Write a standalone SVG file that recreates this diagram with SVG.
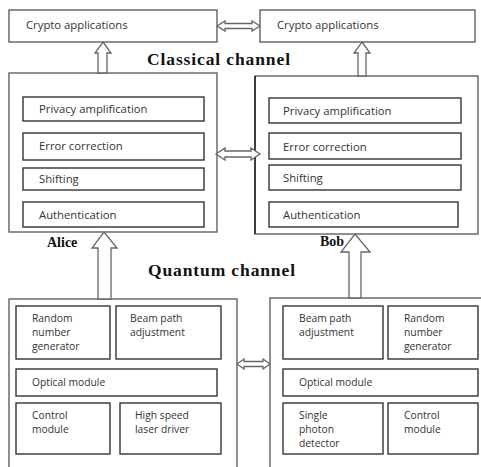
<svg xmlns="http://www.w3.org/2000/svg" width="481" height="467" viewBox="0 0 481 467">
<style>
.outer{fill:#fff;stroke:#555;stroke-width:1.3}
.inner{fill:#fff;stroke:#333;stroke-width:1.4}
.t{font-family:"Open Sans","Liberation Sans",sans-serif;font-size:11.3px;fill:#333}
.s{font-family:"Open Sans","Liberation Sans",sans-serif;font-size:10.3px;fill:#333}
.b{font-family:"Liberation Serif","DejaVu Serif",serif;font-weight:bold;fill:#111}
.arr{fill:#fff;stroke:#666;stroke-width:1.3;stroke-linejoin:miter}
</style>
<rect width="481" height="467" fill="#fff"/>
<g id="crypto-alice"><rect class="outer" x="9" y="10" width="208" height="32"/><text class="t" x="26" y="29">Crypto applications</text></g>
<g id="crypto-bob"><rect class="outer" x="260" y="10" width="215" height="32"/><text class="t" x="277" y="29">Crypto applications</text></g>
<g id="classical-alice">
<rect class="outer" x="9" y="73" width="208" height="159"/>
<g id="alice-privacy"><rect class="inner" x="23" y="97" width="181" height="24"/><text class="t" x="39" y="113">Privacy amplification</text></g>
<g id="alice-error"><rect class="inner" x="23" y="133" width="181" height="27"/><text class="t" x="39" y="150">Error correction</text></g>
<g id="alice-shift"><rect class="inner" x="23" y="168" width="181" height="22"/><text class="t" x="39" y="183">Shifting</text></g>
<g id="alice-auth"><rect class="inner" x="23" y="202" width="181" height="25"/><text class="t" x="39" y="219">Authentication</text></g>
</g>
<g id="classical-bob">
<rect class="outer" x="255" y="76" width="223" height="158"/>
<line x1="255" y1="76" x2="255" y2="234" stroke="#333" stroke-width="1.8"/>
<g id="bob-privacy"><rect class="inner" x="269" y="98" width="192" height="25"/><text class="t" x="283" y="115">Privacy amplification</text></g>
<g id="bob-error"><rect class="inner" x="269" y="133" width="192" height="26"/><text class="t" x="283" y="151">Error correction</text></g>
<g id="bob-shift"><rect class="inner" x="269" y="165" width="192" height="25"/><text class="t" x="283" y="182">Shifting</text></g>
<g id="bob-auth"><rect class="inner" x="269" y="202" width="189" height="25"/><text class="t" x="283" y="219">Authentication</text></g>
</g>
<text class="b" x="147" y="65" font-size="17.5" textLength="143" lengthAdjust="spacing">Classical channel</text>
<text class="b" x="148" y="276" font-size="17.5" textLength="147" lengthAdjust="spacing">Quantum channel</text>
<text class="b" x="47" y="247" font-size="14">Alice</text>
<text class="b" x="320" y="246" font-size="14">Bob</text>
<g id="quantum-alice">
<rect class="outer" x="9" y="299" width="228" height="170"/>
<g id="alice-rng"><rect class="inner" x="16" y="306" width="94" height="53"/><text class="s" x="32" y="322">Random</text><text class="s" x="32" y="336">number</text><text class="s" x="32" y="350">generator</text></g>
<g id="alice-beam"><rect class="inner" x="116" y="306" width="105" height="53"/><text class="s" x="130" y="322">Beam path</text><text class="s" x="130" y="336">adjustment</text></g>
<g id="alice-optical"><rect class="inner" x="16" y="369" width="201" height="27"/><text class="s" x="32" y="386">Optical module</text></g>
<g id="alice-control"><rect class="inner" x="16" y="403" width="94" height="51"/><text class="s" x="32" y="419">Control</text><text class="s" x="32" y="433">module</text></g>
<g id="alice-laser"><rect class="inner" x="120" y="403" width="101" height="51"/><text class="s" x="135" y="419">High speed</text><text class="s" x="135" y="433">laser driver</text></g>
</g>
<g id="quantum-bob">
<rect class="outer" x="270" y="298" width="215" height="175"/>
<g id="bob-beam"><rect class="inner" x="283" y="306" width="100" height="53"/><text class="s" x="299" y="322">Beam path</text><text class="s" x="299" y="336">adjustment</text></g>
<g id="bob-rng"><rect class="inner" x="388" y="306" width="90" height="53"/><text class="s" x="404" y="322">Random</text><text class="s" x="404" y="336">number</text><text class="s" x="404" y="350">generator</text></g>
<g id="bob-optical"><rect class="inner" x="283" y="369" width="195" height="27"/><text class="s" x="299" y="386">Optical module</text></g>
<g id="bob-detector"><rect class="inner" x="283" y="403" width="100" height="51"/><text class="s" x="299" y="419">Single</text><text class="s" x="299" y="433">photon</text><text class="s" x="299" y="447">detector</text></g>
<g id="bob-control"><rect class="inner" x="388" y="403" width="90" height="51"/><text class="s" x="404" y="419">Control</text><text class="s" x="404" y="433">module</text></g>
</g>
<g id="connectors">
<polygon class="arr" points="217,26 225,21 225,23.5 252,23.5 252,21 260,26 252,31 252,28.5 225,28.5 225,31"/>
<polygon class="arr" points="216,154 225,148 225,151 251,151 251,148 260,154 251,160 251,157 225,157 225,160"/>
<polygon class="arr" points="237,364 244,359 244,361.5 263,361.5 263,359 270,364 263,369 263,366.5 244,366.5 244,369"/>
<polygon class="arr" points="103,42 111,53 107,53 107,73 98,73 98,53 95,53"/>
<polygon class="arr" points="362,42 370,53 366,53 366,76 358,76 358,53 354,53"/>
<polygon class="arr" points="104,232 117,248 111,248 111,299 98,299 98,248 92,248"/>
<polygon class="arr" points="355,234 370,252 361,252 361,298 349,298 349,252 341,252"/>
</g>
</svg>
